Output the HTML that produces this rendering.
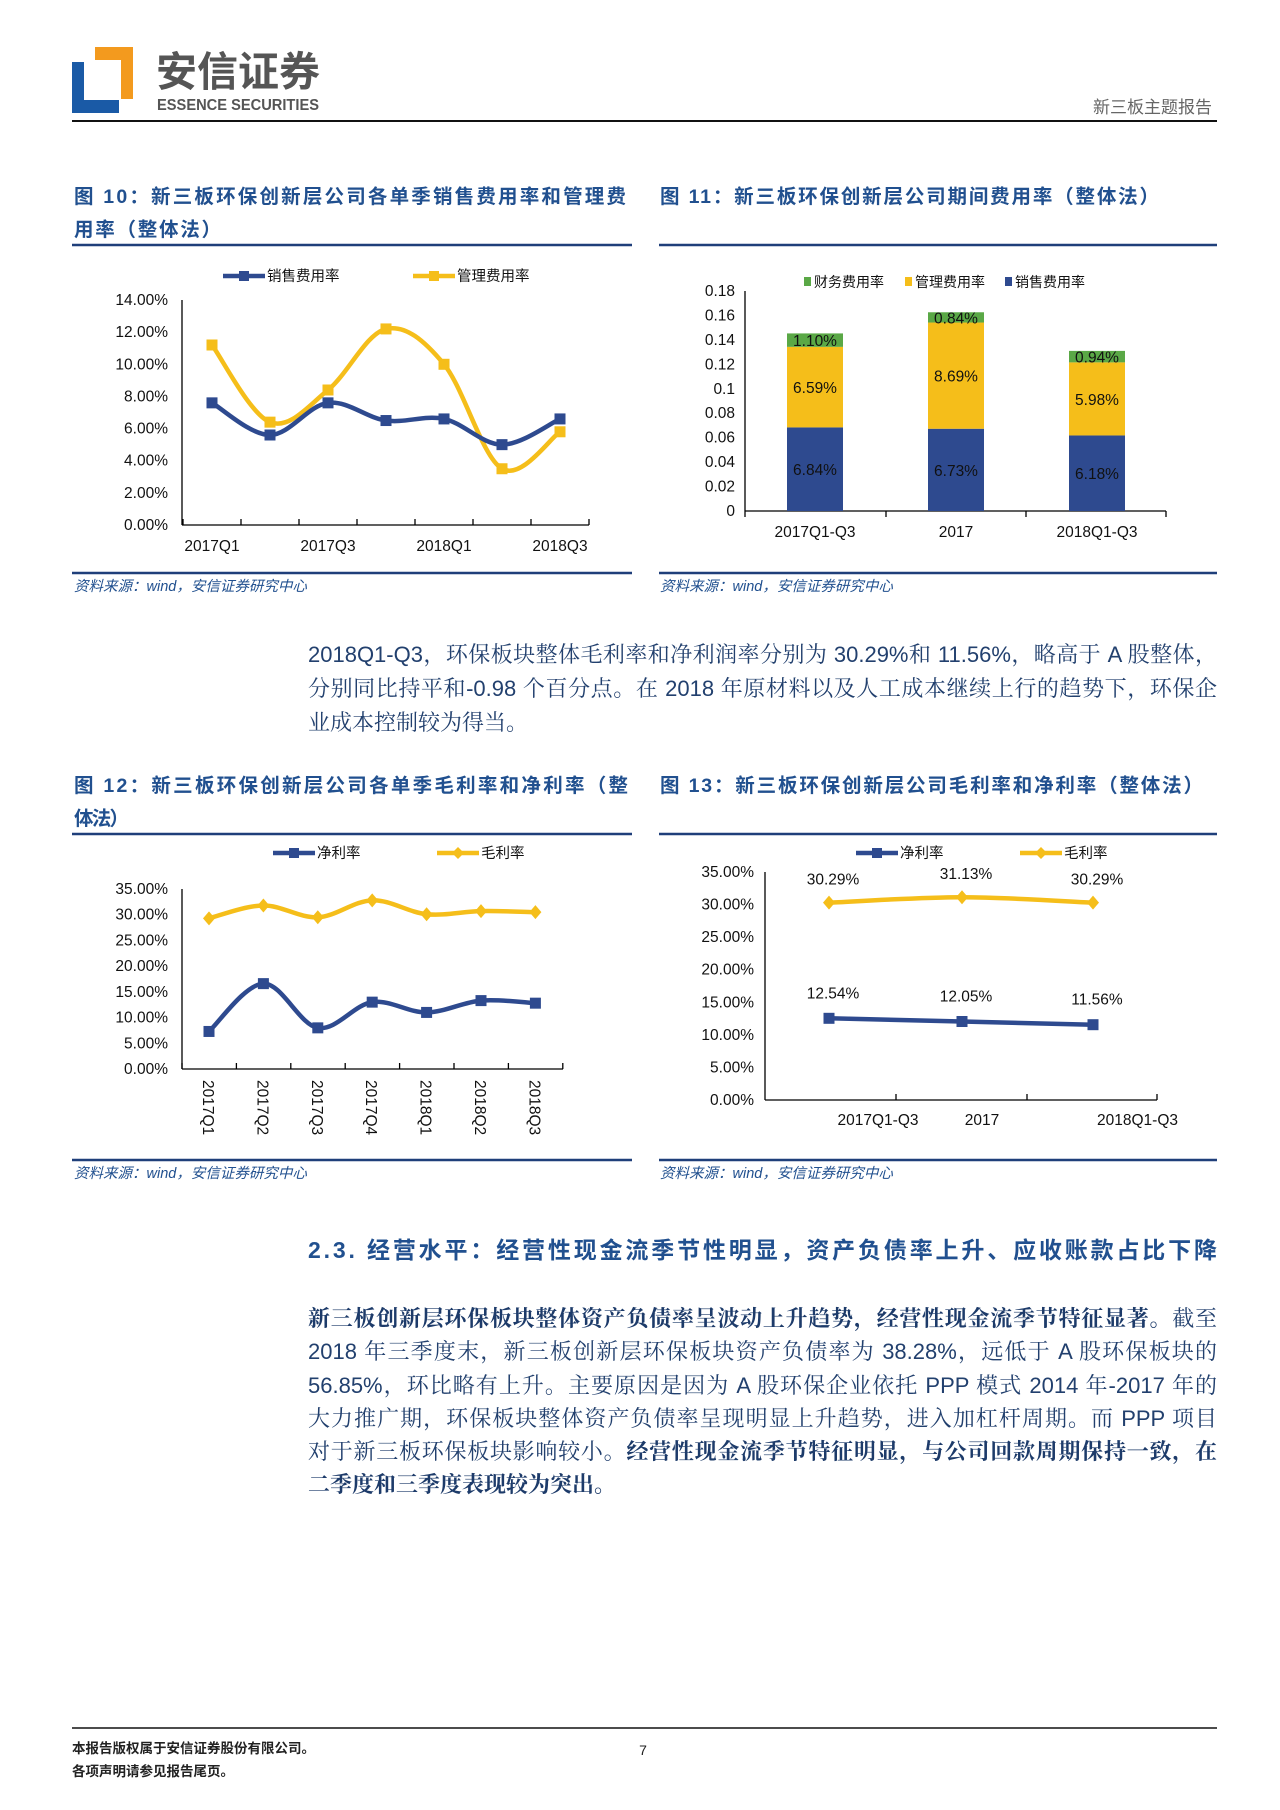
<!DOCTYPE html>
<html><head><meta charset="utf-8">
<style>
body{margin:0;background:#fff;}
#pg{position:relative;width:1280px;height:1810px;overflow:hidden;font-family:"Liberation Sans","Noto Serif CJK SC","Noto Sans CJK SC",sans-serif;}
.p{position:absolute;left:308px;width:909px;font-size:22px;line-height:34px;color:#22406e;text-align:justify;text-align-last:left;}
.p b{color:#1d3b6a;}
.p span{display:block;text-align:justify;text-align-last:justify;white-space:nowrap;}
.p span.l{text-align-last:left;}
svg text{font-family:"Liberation Sans","Noto Sans CJK SC",sans-serif;}
</style></head><body><div id="pg">
<svg id="s" width="1280" height="1810" style="position:absolute;left:0;top:0">
<rect x="72" y="62" width="47" height="51" fill="#1a5aa6"/>
<rect x="84" y="62" width="35" height="38" fill="#fff"/>
<rect x="95" y="47" width="38" height="13" fill="#f39a1e"/>
<rect x="121" y="47" width="12" height="52" fill="#f39a1e"/>
<text x="156" y="86" font-size="41" font-weight="bold" fill="#555" font-family="Noto Sans CJK SC,sans-serif" textLength="164" lengthAdjust="spacingAndGlyphs">安信证券</text>
<text x="157" y="110" font-size="16" font-weight="bold" fill="#555" textLength="162" lengthAdjust="spacingAndGlyphs">ESSENCE SECURITIES</text>
<text x="1212" y="113" font-size="17" fill="#666" text-anchor="end" font-family="Noto Serif CJK SC,serif">新三板主题报告</text>
<line x1="72" y1="121" x2="1217" y2="121" stroke="#111" stroke-width="2"/>
<g font-family="Noto Serif CJK SC,serif" font-weight="bold" font-size="19.5" fill="#21508f" lengthAdjust="spacing">
<text x="74" y="203" textLength="552">图 10：新三板环保创新层公司各单季销售费用率和管理费</text>
<text x="74" y="236" textLength="147">用率（整体法）</text>
<text x="660" y="203" textLength="499">图 11：新三板环保创新层公司期间费用率（整体法）</text>
<text x="74" y="792" textLength="554">图 12：新三板环保创新层公司各单季毛利率和净利率（整</text>
<text x="74" y="825" textLength="55">体法）</text>
<text x="660" y="792" textLength="543">图 13：新三板环保创新层公司毛利率和净利率（整体法）</text>
</g>
<g stroke="#1f3f7a" stroke-width="2.5">
<line x1="72" y1="245" x2="632" y2="245"/><line x1="659" y1="245" x2="1217" y2="245"/>
<line x1="72" y1="573" x2="632" y2="573"/><line x1="659" y1="573" x2="1217" y2="573"/>
<line x1="72" y1="834" x2="632" y2="834"/><line x1="659" y1="834" x2="1217" y2="834"/>
<line x1="72" y1="1160" x2="632" y2="1160"/><line x1="659" y1="1160" x2="1217" y2="1160"/>
</g>
<g font-family="Noto Serif CJK SC,serif" font-style="italic" font-size="14.5" fill="#21508f">
<text x="74" y="591">资料来源：wind，安信证券研究中心</text>
<text x="660" y="591">资料来源：wind，安信证券研究中心</text>
<text x="74" y="1178">资料来源：wind，安信证券研究中心</text>
<text x="660" y="1178">资料来源：wind，安信证券研究中心</text>
</g>
<text x="308" y="1258" font-family="Noto Serif CJK SC,serif" font-weight="bold" font-size="23" fill="#21508f" textLength="909" lengthAdjust="spacing">2.3. 经营水平：经营性现金流季节性明显，资产负债率上升、应收账款占比下降</text>
<line x1="72" y1="1728" x2="1217" y2="1728" stroke="#111" stroke-width="1.5"/>
<g font-family="Noto Serif CJK SC,serif" font-weight="bold" font-size="13.5" fill="#222">
<text x="72" y="1753">本报告版权属于安信证券股份有限公司。</text>
<text x="72" y="1776">各项声明请参见报告尾页。</text>
</g>
<text x="643" y="1755" font-size="14" fill="#222" text-anchor="middle">7</text>
<g id="c"></g>
</svg>
<div class="p" style="top:638px">2018Q1-Q3，环保板块整体毛利率和净利润率分别为 30.29%和 11.56%，略高于 A 股整体，分别同比持平和-0.98 个百分点。在 2018 年原材料以及人工成本继续上行的趋势下，环保企业成本控制较为得当。</div>
<div class="p" style="top:1302px;line-height:33.3px">
<span><b>新三板创新层环保板块整体资产负债率呈波动上升趋势，经营性现金流季节特征显著。</b>截至</span>
<span>2018 年三季度末，新三板创新层环保板块资产负债率为 38.28%，远低于 A 股环保板块的</span>
<span>56.85%，环比略有上升。主要原因是因为 A 股环保企业依托 PPP 模式 2014 年-2017 年的</span>
<span>大力推广期，环保板块整体资产负债率呈现明显上升趋势，进入加杠杆周期。而 PPP 项目</span>
<span>对于新三板环保板块影响较小。<b>经营性现金流季节特征明显，与公司回款周期保持一致，在</b></span>
<span class="l"><b>二季度和三季度表现较为突出。</b></span>
</div>
</div>
<script>
var g=document.getElementById('c'),o='';
var B='#2e4a8f',Y='#f5be1a';
function T(x,y,t,a,s,extra){o+='<text x="'+x+'" y="'+y+'" font-size="'+(s||15)+'" fill="#111" text-anchor="'+(a||'middle')+'" '+(extra||'')+'>'+t+'</text>';}
function L(x1,y1,x2,y2,c,w){o+='<line x1="'+x1+'" y1="'+y1+'" x2="'+x2+'" y2="'+y2+'" stroke="'+(c||'#000')+'" stroke-width="'+(w||1.3)+'"/>';}
function smooth(p){var d='M'+p[0][0]+','+p[0][1];for(var i=0;i<p.length-1;i++){var p0=p[i-1]||p[i],p1=p[i],p2=p[i+1],p3=p[i+2]||p2;var t=0.17;d+=' C'+(p1[0]+(p2[0]-p0[0])*t)+','+(p1[1]+(p2[1]-p0[1])*t)+' '+(p2[0]-(p3[0]-p1[0])*t)+','+(p2[1]-(p3[1]-p1[1])*t)+' '+p2[0]+','+p2[1];}return d;}
function series(xs,vals,fy,c,sm,mk){var p=xs.map(function(x,i){return[x,fy(vals[i])]});var d=sm?smooth(p):'M'+p.map(function(q){return q.join(',')}).join(' L');o+='<path d="'+d+'" fill="none" stroke="'+c+'" stroke-width="4.5"/>';p.forEach(function(q){if(mk=='d')o+='<path d="M'+q[0]+','+(q[1]-7)+' l6,7 -6,7 -6,-7z" fill="'+c+'"/>';else o+='<rect x="'+(q[0]-5.5)+'" y="'+(q[1]-5.5)+'" width="11" height="11" fill="'+c+'"/>';});}
function legLine(x,y,c,t,mk){L(x,y,x+42,y,c,4.5);if(mk=='d')o+='<path d="M'+(x+21)+','+(y-6)+' l6,6 -6,6 -6,-6z" fill="'+c+'"/>';else o+='<rect x="'+(x+16)+'" y="'+(y-5)+'" width="10" height="10" fill="'+c+'"/>';T(x+44,y+5,t,'start',14.5,'fill="#333"');}
var f10=function(v){return 525-v/14*225};
for(var v=0;v<=14;v+=2)T(168,f10(v)+5,v.toFixed(2)+'%','end',15.5);
L(182,300,182,525);L(182,525,589,525);
for(var i=0;i<=7;i++)L(183+58*i,525,183+58*i,519);
var x10=[0,1,2,3,4,5,6].map(function(i){return 212+58*i});
['2017Q1','2017Q3','2018Q1','2018Q3'].forEach(function(t,i){T(x10[i*2],551,t,'middle',15.5)});
series(x10,[11.2,6.4,8.4,12.2,10.0,3.5,5.8],f10,Y,1);
series(x10,[7.6,5.6,7.6,6.5,6.6,5.0,6.6],f10,B,1);
legLine(223,276,B,'销售费用率');legLine(413,276,Y,'管理费用率');
var f11=function(v){return 511-v/0.18*220};
for(var k=0;k<=9;k++){var vv=k*0.02;T(735,f11(vv)+5,k==0?'0':(k==5?'0.1':vv.toFixed(2)),'end',15.5);}
L(745,291,745,511);L(745,511,1166,511);
[745,886,1026,1166].forEach(function(x){L(x,511,x,517)});
var bars=[[815,.0684,.0659,.011,'6.84%','6.59%','1.10%','2017Q1-Q3'],[956,.0673,.0869,.0084,'6.73%','8.69%','0.84%','2017'],[1097,.0618,.0598,.0094,'6.18%','5.98%','0.94%','2018Q1-Q3']];
bars.forEach(function(b){var x=b[0]-28,y0=511,h1=b[1]/0.18*220,h2=b[2]/0.18*220,h3=b[3]/0.18*220;
o+='<rect x="'+x+'" y="'+(y0-h1)+'" width="56" height="'+h1+'" fill="'+B+'"/>';
o+='<rect x="'+x+'" y="'+(y0-h1-h2)+'" width="56" height="'+h2+'" fill="'+Y+'"/>';
o+='<rect x="'+x+'" y="'+(y0-h1-h2-h3)+'" width="56" height="'+h3+'" fill="#5aa846"/>';
T(b[0],y0-h1/2+6,b[4],'middle',15.5,'fill="#222"');T(b[0],y0-h1-h2/2+6,b[5],'middle',15.5,'fill="#222"');T(b[0],y0-h1-h2-h3/2+6,b[6],'middle',15.5,'fill="#222"');
T(b[0],537,b[7],'middle',15.5);});
o+='<rect x="804" y="277" width="7" height="9" fill="#5aa846"/>';T(814,287,'财务费用率','start',14,'fill="#333"');
o+='<rect x="905" y="277" width="7" height="9" fill="'+Y+'"/>';T(915,287,'管理费用率','start',14,'fill="#333"');
o+='<rect x="1005" y="277" width="7" height="9" fill="'+B+'"/>';T(1015,287,'销售费用率','start',14,'fill="#333"');
var f12=function(v){return 1069-v/35*180};
for(var v=0;v<=35;v+=5)T(168,f12(v)+5,v.toFixed(2)+'%','end',15.5);
L(182,889,182,1069);L(182,1069,563,1069);
for(var i=0;i<=7;i++)L(182+54.4*i,1069,182+54.4*i,1063);
var x12=[0,1,2,3,4,5,6].map(function(i){return 209+54.4*i});
['2017Q1','2017Q2','2017Q3','2017Q4','2018Q1','2018Q2','2018Q3'].forEach(function(t,i){o+='<text transform="translate('+(x12[i]-6)+',1080) rotate(90)" font-size="15.5" fill="#111">'+t+'</text>';});
series(x12,[29.3,31.8,29.5,32.8,30.1,30.7,30.5],f12,Y,1,'d');
series(x12,[7.3,16.6,8.0,13.0,11.0,13.3,12.8],f12,B,1);
legLine(273,853,B,'净利率');legLine(437,853,Y,'毛利率','d');
var f13=function(v){return 1100-v/35*228};
for(var v=0;v<=35;v+=5)T(754,f13(v)+5,v.toFixed(2)+'%','end',15.5);
L(765,872,765,1100);L(765,1100,1157,1100);
[896,1027,1157].forEach(function(x){L(x,1100,x,1094)});
var x13=[829,962,1093];
series(x13,[30.29,31.13,30.29],f13,Y,1,'d');
series(x13,[12.54,12.05,11.56],f13,B,0);
[['30.29%',30.29],['31.13%',31.13],['30.29%',30.29]].forEach(function(a,i){T(x13[i]+4,f13(a[1])-18,a[0],'middle',15.5)});
[['12.54%',12.54],['12.05%',12.05],['11.56%',11.56]].forEach(function(a,i){T(x13[i]+4,f13(a[1])-20,a[0],'middle',15.5)});
T(878,1125,'2017Q1-Q3','middle',15.5);T(982,1125,'2017','middle',15.5);T(1097,1125,'2018Q1-Q3','start',15.5);
legLine(856,853,B,'净利率');legLine(1020,853,Y,'毛利率','d');
g.innerHTML=o;
</script>
</body></html>
